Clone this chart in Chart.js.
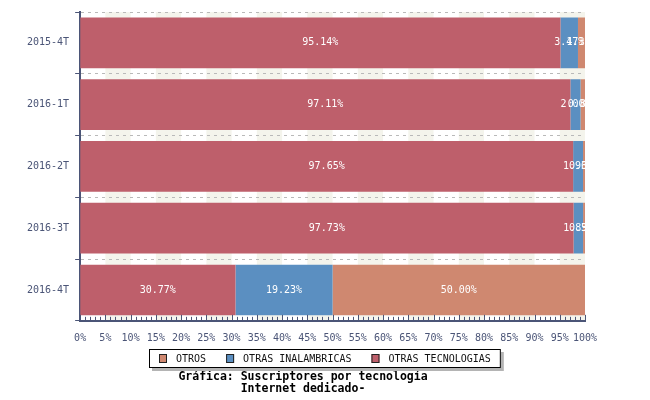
<!DOCTYPE html>
<html>
<head>
<meta charset="utf-8">
<script src="https://cdn.jsdelivr.net/npm/chart.js@4.4.1/dist/chart.umd.min.js"></script>
<style>
  html, body { margin: 0; padding: 0; background: #fff; }
  #wrap { width: 650px; height: 400px; }
</style>
</head>
<body>
<div id="wrap"><canvas id="grafico"></canvas></div>
<script>
const periodos = ["2015-4T", "2016-1T", "2016-2T", "2016-3T", "2016-4T"];
const otrasTecnologias = [95.14, 97.11, 97.65, 97.73, 30.77];
const otrasInalambricas = [3.47, 2.00, 1.96, 1.89, 19.23];
const otros = [1.39, 0.89, 0.39, 0.38, 50.00];
const marcasX = [0, 5, 10, 15, 20, 25, 30, 35, 40, 45, 50, 55, 60, 65, 70, 75, 80, 85, 90, 95, 100];

const FUENTE = "'DejaVu Sans Mono', monospace";
const COLOR_EJE = "#4b5577";

// franjas verticales de fondo (5-10%, 15-20%, ...)
const franjas = {
  id: "franjas",
  beforeDraw(chart) {
    const { ctx, chartArea: a, scales: { x } } = chart;
    ctx.save();
    ctx.fillStyle = "#f4f4ec";
    for (let v = 5; v < 100; v += 10) {
      const x1 = x.getPixelForValue(v);
      const x2 = x.getPixelForValue(v + 5);
      ctx.fillRect(x1, a.top, x2 - x1, a.bottom - a.top);
    }
    ctx.restore();
  }
};

// etiquetas de valor dentro de cada segmento
const etiquetas = {
  id: "etiquetas",
  afterDatasetsDraw(chart) {
    const { ctx, chartArea: a } = chart;
    ctx.save();
    ctx.beginPath();
    ctx.rect(a.left, a.top, a.right - a.left, a.bottom - a.top);
    ctx.clip();
    ctx.fillStyle = "#fff";
    ctx.font = "10px " + FUENTE;
    ctx.textAlign = "center";
    ctx.textBaseline = "middle";
    chart.data.datasets.forEach((ds, i) => {
      chart.getDatasetMeta(i).data.forEach((el, j) => {
        const cx = (el.x + el.base) / 2;
        ctx.fillText(ds.data[j].toFixed(2) + "%", cx, el.y);
      });
    });
    ctx.restore();
  },
  afterDraw(chart) {
    // marcas menores del eje x, hacia dentro
    const { ctx, scales: { x }, chartArea: a } = chart;
    ctx.save();
    ctx.strokeStyle = COLOR_EJE;
    ctx.lineWidth = 1;
    for (let v = 0; v <= 100; v++) {
      const px = Math.round(x.getPixelForValue(v)) + 0.5;
      const largo = v % 5 === 0 ? 6 : 4;
      ctx.beginPath();
      ctx.moveTo(px, a.bottom);
      ctx.lineTo(px, a.bottom - largo);
      ctx.stroke();
    }
    ctx.restore();
  }
};

// leyenda con recuadro y sombra
const leyenda = {
  id: "leyenda",
  afterDraw(chart) {
    const { ctx } = chart;
    const items = chart.data.datasets.slice().reverse();
    ctx.save();
    ctx.font = "10px " + FUENTE;
    const caja = 8, sep = 9, hueco = 20, margen = 10;
    let ancho = margen * 2;
    items.forEach((d, i) => {
      ancho += caja + sep + ctx.measureText(d.label).width + (i < items.length - 1 ? hueco : 0);
    });
    const alto = 19;
    const x0 = Math.round(chart.width / 2 - ancho / 2);
    const y0 = Math.round(chart.scales.x.top + 28);
    ctx.fillStyle = "#b4b4b4";
    ctx.fillRect(x0 + 3, y0 + 3, ancho, alto);
    ctx.fillStyle = "#fff";
    ctx.fillRect(x0, y0, ancho, alto);
    ctx.strokeStyle = "#000";
    ctx.lineWidth = 1;
    ctx.strokeRect(x0 + 0.5, y0 + 0.5, ancho - 1, alto - 1);
    let cx = x0 + margen;
    const cy = Math.round(y0 + alto / 2);
    items.forEach(d => {
      ctx.fillStyle = d.backgroundColor;
      ctx.fillRect(cx, cy - 5, caja, 9);
      ctx.strokeStyle = "#222";
      ctx.strokeRect(cx + 0.5, cy - 4.5, caja - 1, 8);
      cx += caja + sep;
      ctx.fillStyle = "#111";
      ctx.textBaseline = "middle";
      ctx.textAlign = "left";
      ctx.fillText(d.label, cx, cy);
      cx += ctx.measureText(d.label).width + hueco;
    });
    ctx.restore();
  }
};

new Chart(document.getElementById("grafico"), {
  type: "bar",
  data: {
    labels: periodos,
    datasets: [
      { label: "OTRAS TECNOLOGIAS", data: otrasTecnologias, backgroundColor: "#be5f6b" },
      { label: "OTRAS INALAMBRICAS", data: otrasInalambricas, backgroundColor: "#5b8fc1" },
      { label: "OTROS", data: otros, backgroundColor: "#cf8870" }
    ]
  },
  options: {
    indexAxis: "y",
    responsive: true,
    maintainAspectRatio: false,
    animation: false,
    layout: { padding: { top: 10, left: 21, right: 65, bottom: 0 } },
    datasets: { bar: { categoryPercentage: 0.82, barPercentage: 1, borderWidth: 0 } },
    scales: {
      x: {
        stacked: true,
        min: 0,
        max: 100,
        afterBuildTicks: s => { s.ticks = marcasX.map(v => ({ value: v })); },
        ticks: {
          callback: v => v + "%",
          autoSkip: false,
          maxRotation: 0,
          padding: 12,
          color: COLOR_EJE,
          font: { family: FUENTE, size: 10 }
        },
        grid: { display: false, drawTicks: false },
        border: { color: COLOR_EJE, width: 2 }
      },
      y: {
        stacked: true,
        ticks: {
          padding: 6,
          color: COLOR_EJE,
          font: { family: FUENTE, size: 10 }
        },
        grid: {
          offset: true,
          color: "#b9b9b9",
          tickColor: COLOR_EJE,
          tickLength: 5,
          lineWidth: 1
        },
        border: { color: COLOR_EJE, width: 2, dash: [3, 4] }
      }
    },
    plugins: {
      legend: { display: false },
      tooltip: { enabled: false },
      title: {
        display: true,
        position: "bottom",
        text: ["Gráfica: Suscriptores por tecnología", "Internet dedicado-"],
        color: "#000",
        font: { family: FUENTE, size: 11.5, weight: "bold", lineHeight: 1.05 },
        padding: { top: 14, bottom: 5 }
      }
    }
  },
  plugins: [franjas, etiquetas, leyenda]
});
</script>
</body>
</html>
